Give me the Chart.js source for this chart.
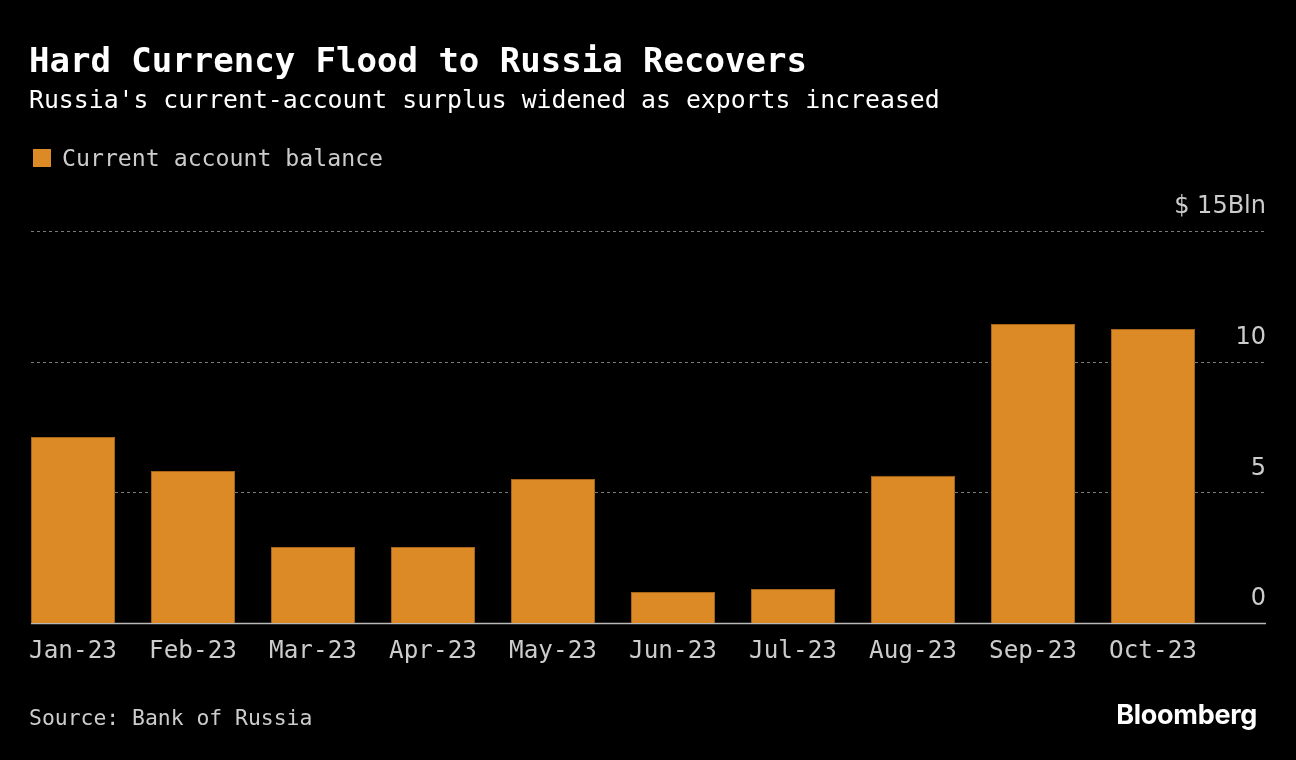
<!DOCTYPE html>
<html>
<head>
<meta charset="utf-8">
<script src="https://cdn.jsdelivr.net/npm/chart.js@4.4.1/dist/chart.umd.min.js"></script>
<style>
  html, body { margin: 0; padding: 0; background: #000; }
  #wrap { position: relative; width: 1296px; height: 760px; background: #000; overflow: hidden; }
  #wrap canvas { position: absolute; left: 0; top: 0; }
  .t { position: absolute; white-space: nowrap; font-family: "DejaVu Sans Mono", monospace; }
  #title { left: 29px; top: 40px; font-size: 34px; font-weight: bold; color: #fff; }
  #subtitle { left: 29px; top: 85px; font-size: 24.8px; color: #fff; }
  #legend { left: 33px; top: 144px; font-size: 23.2px; color: #ccc; }
  #legend span.sw { display: inline-block; width: 18px; height: 18px; background: #dc8a26; vertical-align: -1px; margin-right: 11px; }
  #source { left: 29px; top: 705px; font-size: 21.4px; color: #ccc; }
  #logo { right: 39px; top: 698px; font-family: Inter, "Liberation Sans", sans-serif; font-size: 27px; font-weight: 700; color: #fff; letter-spacing: -0.3px; }
</style>
</head>
<body>
<div id="wrap">
  <canvas id="c" width="1296" height="760"></canvas>
  <div class="t" id="title">Hard Currency Flood to Russia Recovers</div>
  <div class="t" id="subtitle">Russia's current-account surplus widened as exports increased</div>
  <div class="t" id="legend"><span class="sw"></span>Current account balance</div>
  <div class="t" id="source">Source: Bank of Russia</div>
  <div class="t" id="logo">Bloomberg</div>
</div>
<script>
const categories = ["Jan-23","Feb-23","Mar-23","Apr-23","May-23","Jun-23","Jul-23","Aug-23","Sep-23","Oct-23"];
const currentAccount = [7.12, 5.82, 2.91, 2.91, 5.51, 1.19, 1.30, 5.63, 11.44, 11.25];
const yTicks = [0, 5, 10, 15];
const yTickLabels = ["0", "5", "10", "$ 15Bln"];

const GRID_LEFT = 31, GRID_RIGHT = 1266;
const xTickFont = '24.3px "DejaVu Sans Mono", monospace';
const yTickFont = '24px "DejaVu Sans", sans-serif';

const overlay = {
  id: 'overlay',
  beforeDatasetsDraw(chart) {
    const ctx = chart.ctx, y = chart.scales.y;
    ctx.save();
    yTicks.forEach((v) => {
      const py = Math.round(y.getPixelForValue(v)) + 0.5;
      ctx.beginPath();
      if (v === 0) {
        ctx.setLineDash([]);
        ctx.strokeStyle = '#b8b8b8';
        ctx.lineWidth = 1.5;
      } else {
        ctx.setLineDash([3, 3]);
        ctx.strokeStyle = '#7a7a7a';
        ctx.lineWidth = 1;
      }
      ctx.moveTo(GRID_LEFT, py);
      ctx.lineTo(GRID_RIGHT, py);
      ctx.stroke();
    });
    ctx.restore();
  },
  afterDatasetsDraw(chart) {
    const ctx = chart.ctx, x = chart.scales.x, y = chart.scales.y;
    ctx.save();
    ctx.font = yTickFont;
    ctx.fillStyle = '#cccccc';
    ctx.textAlign = 'right';
    ctx.textBaseline = 'bottom';
    yTicks.forEach((v, i) => {
      ctx.fillText(yTickLabels[i], GRID_RIGHT, y.getPixelForValue(v) - 12);
    });
    ctx.font = xTickFont;
    ctx.textAlign = 'center';
    ctx.textBaseline = 'middle';
    categories.forEach((c, i) => {
      ctx.fillText(c, x.getPixelForValue(i), y.getPixelForValue(0) + 29);
    });
    ctx.restore();
  }
};

new Chart(document.getElementById('c'), {
  type: 'bar',
  data: {
    labels: categories,
    datasets: [{
      label: 'Current account balance',
      data: currentAccount,
      backgroundColor: '#dc8a26',
      borderColor: '#a8651a',
      borderWidth: 1,
      barPercentage: 0.7,
      categoryPercentage: 1.0
    }]
  },
  options: {
    responsive: false,
    animation: false,
    devicePixelRatio: 1,
    layout: { padding: { left: 13, right: 83, top: 231, bottom: 137 } },
    plugins: { legend: { display: false }, tooltip: { enabled: false }, title: { display: false } },
    scales: {
      x: { display: false, offset: true },
      y: { display: false, min: 0, max: 15 }
    }
  },
  plugins: [overlay]
});
</script>
</body>
</html>
